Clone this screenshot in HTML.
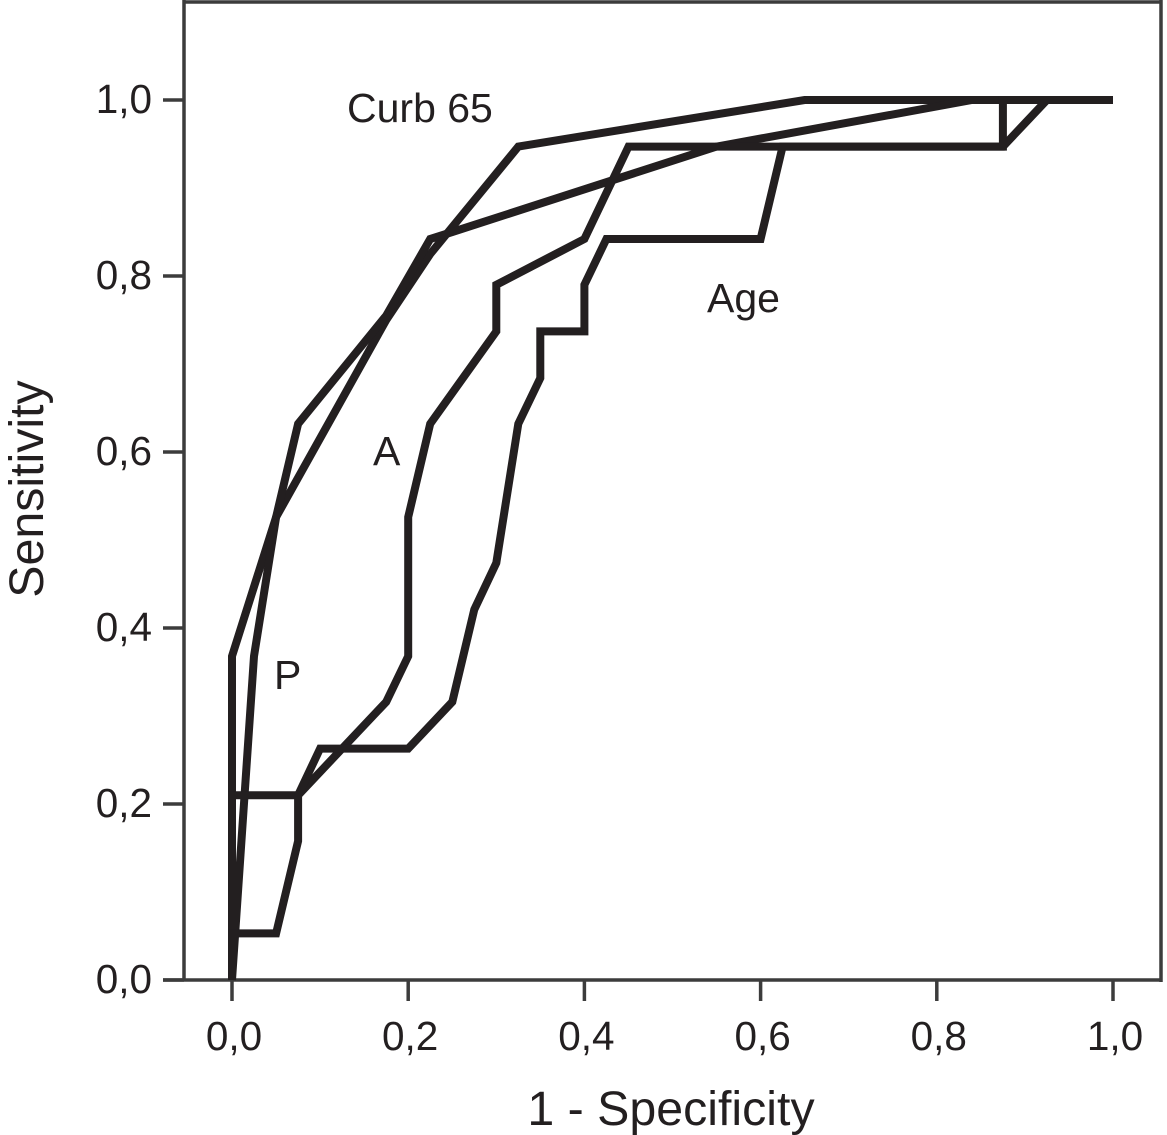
<!DOCTYPE html>
<html lang="en">
<head>
<meta charset="utf-8">
<title>ROC curves</title>
<style>
html,body{margin:0;padding:0;background:#fff;}
#chart{display:block;width:1167px;height:1135px;font-family:"Liberation Sans",Arial,sans-serif;}
</style>
</head>
<body>
<svg id="chart" xmlns="http://www.w3.org/2000/svg" width="1167" height="1135" viewBox="0 0 1167 1135">
  <rect x="0" y="0" width="1167" height="1135" fill="#ffffff"/>
  <g id="frame"></g>
  <g id="ticks"></g>
  <g id="series"></g>
  <g id="labels"></g>
  <text transform="translate(43,489) rotate(-90)" text-anchor="middle" font-size="48.3" fill="#231f20">Sensitivity</text>
  <text x="671" y="1125" text-anchor="middle" font-size="48.3" fill="#231f20">1 - Specificity</text>
  <text x="347" y="122" font-size="41" fill="#231f20">Curb 65</text>
  <text x="707" y="312" font-size="41" fill="#231f20">Age</text>
  <text x="373" y="465" font-size="41" fill="#231f20">A</text>
  <text x="274" y="689" font-size="41" fill="#231f20">P</text>
</svg>
<script>
const xTickValues = [0, 0.2, 0.4, 0.6, 0.8, 1.0];
const yTickValues = [0, 0.2, 0.4, 0.6, 0.8, 1.0];
const xTickLabels = ["0,0", "0,2", "0,4", "0,6", "0,8", "1,0"];
const yTickLabels = ["0,0", "0,2", "0,4", "0,6", "0,8", "1,0"];

const curbFpr = [0, 0, 0.05, 0.175, 0.225, 0.325, 0.65, 1];
const curbTpr = [0, 0.368, 0.526, 0.75, 0.825, 0.947, 1, 1];

const pFpr = [0, 0.025, 0.05, 0.075, 0.175, 0.225, 0.25, 0.46, 0.55, 0.84, 1];
const pTpr = [0, 0.368, 0.526, 0.632, 0.755, 0.842, 0.85, 0.918, 0.947, 1, 1];

const aFpr = [0, 0, 0.075, 0.175, 0.2, 0.2, 0.225, 0.3, 0.3, 0.4, 0.45, 0.875, 0.925, 1];
const aTpr = [0, 0.21, 0.21, 0.316, 0.368, 0.526, 0.632, 0.737, 0.79, 0.842, 0.947, 0.947, 1, 1];

const ageFpr = [0, 0, 0.05, 0.075, 0.075, 0.1, 0.2, 0.25, 0.275, 0.3, 0.325, 0.35, 0.35, 0.4, 0.4, 0.425, 0.6, 0.625, 0.875, 0.875, 1];
const ageTpr = [0, 0.053, 0.053, 0.158, 0.21, 0.263, 0.263, 0.316, 0.421, 0.474, 0.632, 0.684, 0.737, 0.737, 0.79, 0.842, 0.842, 0.947, 0.947, 1, 1];

const NS = "http://www.w3.org/2000/svg";
const xScale = v => 232 + v * 881;
const yScale = v => 980 - v * 880;
const axisColor = "#3c3c3c";
const inkColor = "#231f20";

function makeLine(parent, x1, y1, x2, y2) {
  const el = document.createElementNS(NS, "line");
  el.setAttribute("x1", x1);
  el.setAttribute("y1", y1);
  el.setAttribute("x2", x2);
  el.setAttribute("y2", y2);
  el.setAttribute("stroke", axisColor);
  el.setAttribute("stroke-width", 3.5);
  parent.appendChild(el);
  return el;
}

const frame = document.getElementById("frame");
const frameLeft = makeLine(frame, 184, 0, 184, 980);


const frameTop = makeLine(frame, 183, 2, 1161, 2);


const frameRight = makeLine(frame, 1161, 0, 1161, 982);


const frameBottom = makeLine(frame, 163, 980, 1162, 980);



const ticks = document.getElementById("ticks");
const labels = document.getElementById("labels");

function makeLabel(x, y, anchor, str) {
  const t = document.createElementNS(NS, "text");
  t.setAttribute("x", x);
  t.setAttribute("y", y);
  t.setAttribute("text-anchor", anchor);
  t.setAttribute("font-size", 40.5);
  t.setAttribute("fill", inkColor);
  t.textContent = str;
  labels.appendChild(t);
  return t;
}

xTickValues.forEach((v, i) => {
  const tick = makeLine(ticks, xScale(v), 980, xScale(v), 1001);
  
  
  const label = makeLabel(xScale(v) + 2, 1050, "middle", xTickLabels[i]);
  
  
});

yTickValues.forEach((v, i) => {
  const tick = makeLine(ticks, 163, yScale(v), 184, yScale(v));
  
  
  const label = makeLabel(152, yScale(v) + 13, "end", yTickLabels[i]);
  
  
});

function makeCurve(xs, ys) {
  const el = document.createElementNS(NS, "polyline");
  el.setAttribute("points", xs.map((x, i) => xScale(x).toFixed(1) + "," + yScale(ys[i]).toFixed(1)).join(" "));
  el.setAttribute("fill", "none");
  el.setAttribute("stroke", inkColor);
  el.setAttribute("stroke-width", 8);
  el.setAttribute("stroke-linejoin", "miter");
  el.setAttribute("stroke-miterlimit", 3);
  document.getElementById("series").appendChild(el);
  return el;
}

const curbCurve = makeCurve(curbFpr, curbTpr);


const pCurve = makeCurve(pFpr, pTpr);


const aCurve = makeCurve(aFpr, aTpr);


const ageCurve = makeCurve(ageFpr, ageTpr);


</script>
</body>
</html>
